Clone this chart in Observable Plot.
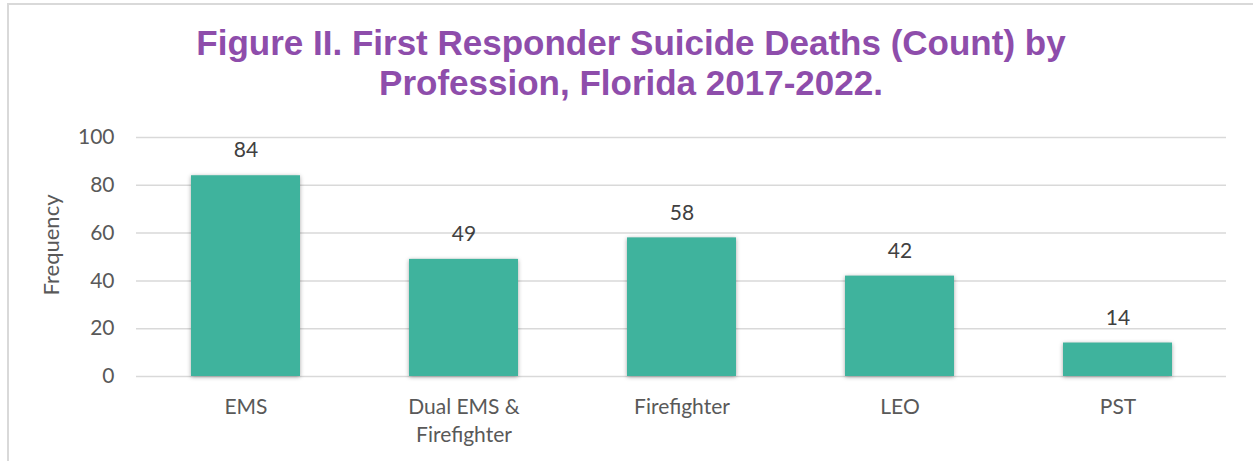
<!DOCTYPE html>
<html>
<head>
<meta charset="utf-8">
<script src="https://cdn.jsdelivr.net/npm/d3@7"></script>
<script src="https://cdn.jsdelivr.net/npm/@observablehq/plot@0.6"></script>
<style>
  html, body { margin: 0; padding: 0; background: #fff; }
  #frame {
    position: absolute; left: 7px; top: 3px; width: 1300px; height: 500px;
    border: 2px solid #d9d9d9; box-sizing: border-box;
  }
  #wrap { position: absolute; left: 0; top: 0; width: 1253px; height: 461px; overflow: hidden; }
  #title {
    position: absolute; left: 0; top: 23px; width: 1262px; text-align: center;
    font-family: "Liberation Sans", Arial, sans-serif; font-weight: bold;
    font-size: 35px; line-height: 40px; color: #8e4dab;
  }
  #chart { position: absolute; left: 0; top: 120px; }
  #chart g[aria-label="bar"] rect { filter: drop-shadow(0px 1px 2px rgba(0,0,0,0.35)); }
</style>
</head>
<body>
<div id="wrap">
  <div id="frame"></div>
  <div id="title">Figure II. First Responder Suicide Deaths (Count) by<br>Profession, Florida 2017-2022.</div>
  <div id="chart"></div>
</div>
<script>
// Professions and suicide death counts, Florida 2017-2022
const professions = ["EMS", "Dual EMS &\nFirefighter", "Firefighter", "LEO", "PST"];
const deaths = [84, 49, 58, 42, 14];
const yTicks = [0, 20, 40, 60, 80, 100];

const rows = professions.map((p, i) => ({profession: p, count: deaths[i]}));

const textColor = "#595959";
const font = "Lato, 'Open Sans', sans-serif";

const chart = Plot.plot({
  width: 1253,
  height: 341,
  marginTop: 17,
  marginBottom: 85,
  marginLeft: 136,
  marginRight: 27,
  style: {fontFamily: font, fontSize: "21px", color: textColor, background: "transparent"},
  x: {domain: professions, paddingInner: 0.5, paddingOuter: 0.25, label: null},
  y: {domain: [0, 100], ticks: yTicks, label: null},
  marks: [
    Plot.gridY(yTicks, {stroke: "#d9d9d9", strokeOpacity: 1, strokeWidth: 1.5}),
    Plot.axisY(yTicks, {tickSize: 0, tickPadding: 22, fontSize: 21, fill: textColor}),
    Plot.axisX({tickSize: 0, tickPadding: 18, fontSize: 21, fill: textColor, lineHeight: 1.33}),
    Plot.text(["Frequency"], {frameAnchor: "left", textAnchor: "middle", dx: -85, dy: -12, rotate: -90, fontSize: 22, fill: textColor}),
    Plot.barY(rows, {x: "profession", y: "count", fill: "#3fb39d"}),
    Plot.text(rows, {x: "profession", y: "count", text: d => String(d.count), dy: -25, fontSize: 21, fill: "#404040"})
  ]
});
document.getElementById("chart").appendChild(chart);
</script>
</body>
</html>
